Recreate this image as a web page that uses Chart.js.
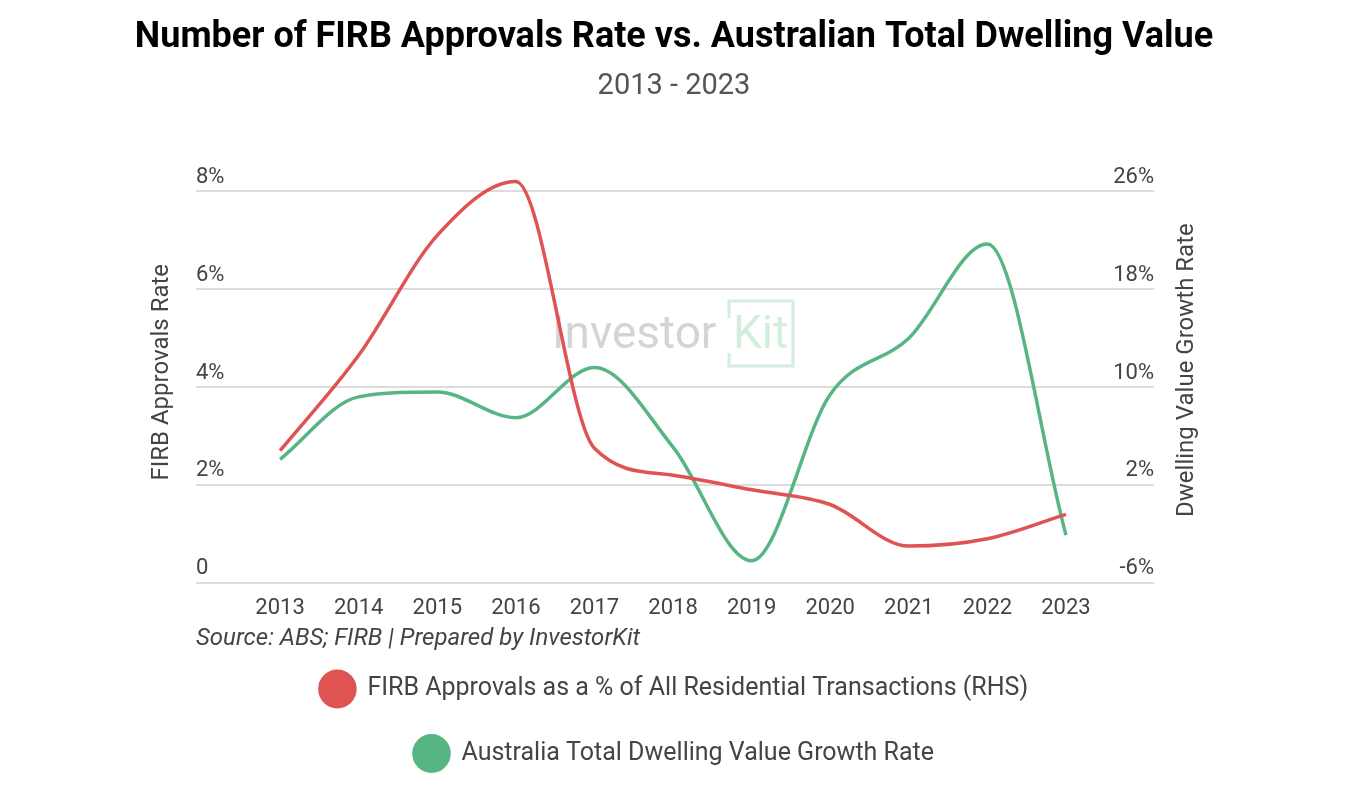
<!DOCTYPE html>
<html>
<head>
<meta charset="utf-8">
<script src="https://cdn.jsdelivr.net/npm/chart.js@4.4.0/dist/chart.umd.min.js"></script>
<style>
  html, body { margin: 0; padding: 0; background: #fff; }
  #wrap { width: 1348px; height: 793px; }
</style>
</head>
<body>
<div id="wrap"><canvas id="c"></canvas></div>
<script>
const years = [2013, 2014, 2015, 2016, 2017, 2018, 2019, 2020, 2021, 2022, 2023];
const firbRate = [2.7, 4.65, 7.1, 8.2, 2.75, 2.2, 1.9, 1.6, 0.75, 0.9, 1.4];
const dwellingGrowth = [4.1, 9.2, 9.6, 7.5, 11.6, 5.1, -4.2, 9.4, 14.0, 21.7, -2.1];
const leftTicks = [0, 2, 4, 6, 8];
const rightTicks = [-6, 2, 10, 18, 26];
const rightTitle = 'Dwelling Value Growth Rate';

const RED = '#df5353';
const GREEN = '#57b584';
const FONT = 'Roboto, "Noto Sans", sans-serif';

const watermark = {
  id: 'watermark',
  beforeDatasetsDraw(chart) {
    const ctx = chart.ctx;
    ctx.save();
    ctx.font = '400 46px ' + FONT;
    ctx.fillStyle = '#d4d4d4';
    ctx.textBaseline = 'middle';
    ctx.textAlign = 'left';
    ctx.fillText('Investor', 552, 336);
    ctx.fillStyle = '#d3eedd';
    ctx.fillText('Kit', 733, 336);
    ctx.strokeStyle = '#d3eedd';
    ctx.lineWidth = 3;
    ctx.beginPath();
    ctx.moveTo(729, 318); ctx.lineTo(729, 301); ctx.lineTo(793, 301); ctx.lineTo(793, 366); ctx.lineTo(729, 366); ctx.lineTo(729, 353);
    ctx.stroke();
    ctx.restore();
  }
};

// Right axis title reads bottom-to-top in the reference; draw it in that orientation
const rightTitlePlugin = {
  id: 'rightTitle',
  afterDraw(chart) {
    const s = chart.scales.yR;
    const ctx = chart.ctx;
    ctx.save();
    ctx.translate(s.right - 31, (s.top + s.bottom) / 2 - 17);
    ctx.rotate(-Math.PI / 2);
    ctx.font = '400 24px ' + FONT;
    ctx.fillStyle = '#444';
    ctx.textAlign = 'center';
    ctx.textBaseline = 'middle';
    ctx.fillText(rightTitle, 0, 0);
    ctx.restore();
  }
};

new Chart(document.getElementById('c'), {
  type: 'line',
  data: {
    datasets: [
      {
        label: 'FIRB Approvals as a % of All Residential Transactions (RHS)',
        data: years.map((y, i) => ({x: y, y: firbRate[i]})),
        borderColor: RED,
        backgroundColor: RED,
        borderWidth: 3.5,
        pointRadius: 0,
        cubicInterpolationMode: 'monotone',
        clip: false,
        yAxisID: 'yL'
      },
      {
        label: 'Australia Total Dwelling Value Growth Rate',
        data: years.map((y, i) => ({x: y, y: dwellingGrowth[i]})),
        borderColor: GREEN,
        backgroundColor: GREEN,
        borderWidth: 3.5,
        pointRadius: 0,
        cubicInterpolationMode: 'monotone',
        clip: false,
        yAxisID: 'yR'
      }
    ]
  },
  options: {
    responsive: true,
    maintainAspectRatio: false,
    animation: false,
    layout: { padding: { left: 130, right: 130, top: 0, bottom: 17 } },
    plugins: {
      title: {
        display: true,
        text: 'Number of FIRB Approvals Rate vs. Australian Total Dwelling Value',
        font: { family: FONT, size: 36, weight: 'bold' },
        color: '#000',
        padding: { top: 16.4, bottom: 6 }
      },
      subtitle: {
        display: true,
        text: '2013 - 2023',
        font: { family: FONT, size: 29 },
        color: '#555',
        padding: { top: 4, bottom: 87 }
      },
      legend: {
        position: 'bottom',
        labels: {
          usePointStyle: true,
          pointStyle: 'circle',
          pointStyleWidth: 35,
          font: { family: FONT, size: 25 },
          color: '#444',
          padding: 39.5
        }
      },
      tooltip: { enabled: false }
    },
    scales: {
      x: {
        type: 'linear',
        min: 2011.93,
        max: 2024.12,
        afterBuildTicks(axis) { axis.ticks = years.map(v => ({value: v})); },
        grid: { display: false, drawTicks: false },
        border: { display: false },
        ticks: {
          font: { family: FONT, size: 22 },
          color: '#444',
          padding: 12,
          callback: v => String(v)
        },
        title: {
          display: true,
          align: 'start',
          text: 'Source: ABS; FIRB | Prepared by InvestorKit',
          font: { family: FONT, size: 24, style: 'italic' },
          color: '#444',
          padding: { top: -9, bottom: -16 }
        }
      },
      yL: {
        position: 'left',
        min: 0,
        max: 8,
        afterBuildTicks(axis) { axis.ticks = leftTicks.map(v => ({value: v})); },
        grid: { color: '#dcdcdc', lineWidth: 2, drawTicks: false },
        border: { display: false },
        ticks: {
          mirror: true,
          padding: 0,
          labelOffset: -14,
          font: { family: FONT, size: 22 },
          color: '#444',
          callback: v => v === 0 ? '0' : v + '%'
        },
        title: {
          display: true,
          text: '     FIRB Approvals Rate',
          font: { family: FONT, size: 24 },
          color: '#444',
          padding: { top: 17.6, bottom: 19.6 }
        }
      },
      yR: {
        position: 'right',
        min: -6,
        max: 26,
        afterBuildTicks(axis) { axis.ticks = rightTicks.map(v => ({value: v})); },
        grid: { display: false, drawTicks: false },
        border: { display: false },
        ticks: {
          mirror: true,
          padding: 0,
          labelOffset: -14,
          font: { family: FONT, size: 22 },
          color: '#444',
          callback: v => v + '%'
        },
        title: {
          display: true,
          text: rightTitle,
          font: { family: FONT, size: 24 },
          color: 'rgba(0,0,0,0)',
          padding: { top: 16.6, bottom: 18.6 }
        }
      }
    }
  },
  plugins: [watermark, rightTitlePlugin]
});
</script>
</body>
</html>
